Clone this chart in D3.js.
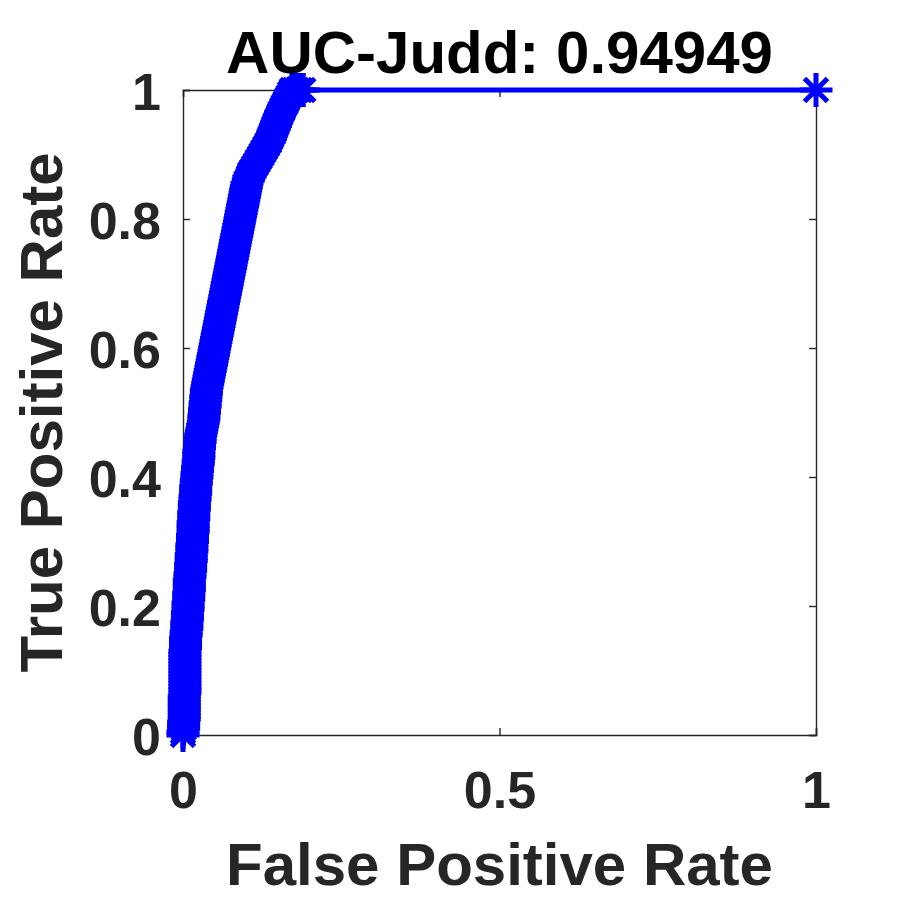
<!DOCTYPE html>
<html>
<head>
<meta charset="utf-8">
<script src="https://cdn.jsdelivr.net/npm/d3@7/dist/d3.min.js"></script>
<style>
  html, body { margin: 0; padding: 0; background: #fff; }
  svg { display: block; }
  text { font-family: "Liberation Sans", Arial, Helvetica, sans-serif; font-weight: bold; }
</style>
</head>
<body>
<svg id="chart" width="900" height="900"></svg>
<script>
// ---- data ----
var titleText = "AUC-Judd: 0.94949";
var xLabel = "False Positive Rate";
var yLabel = "True Positive Rate";
var xTicks = [0, 0.5, 1];
var xTickLabels = ["0", "0.5", "1"];
var yTicks = [0, 0.2, 0.4, 0.6, 0.8, 1];
var yTickLabels = ["0", "0.2", "0.4", "0.6", "0.8", "1"];

var tpr = [
  0.000, 0.005, 0.010, 0.015, 0.020, 0.025, 0.030, 0.035, 0.040, 0.045,
  0.050, 0.055, 0.060, 0.065, 0.070, 0.075, 0.080, 0.085, 0.090, 0.095,
  0.100, 0.105, 0.110, 0.115, 0.120, 0.125, 0.130, 0.135, 0.140, 0.145,
  0.150, 0.155, 0.160, 0.165, 0.170, 0.175, 0.180, 0.185, 0.190, 0.195,
  0.200, 0.205, 0.210, 0.215, 0.220, 0.225, 0.230, 0.235, 0.240, 0.245,
  0.250, 0.255, 0.260, 0.265, 0.270, 0.275, 0.280, 0.285, 0.290, 0.295,
  0.300, 0.305, 0.310, 0.315, 0.320, 0.325, 0.330, 0.335, 0.340, 0.345,
  0.350, 0.355, 0.360, 0.365, 0.370, 0.375, 0.380, 0.385, 0.390, 0.395,
  0.400, 0.405, 0.410, 0.415, 0.420, 0.425, 0.430, 0.435, 0.440, 0.445,
  0.450, 0.455, 0.460, 0.465, 0.470, 0.475, 0.480, 0.485, 0.490, 0.495,
  0.500, 0.505, 0.510, 0.515, 0.520, 0.525, 0.530, 0.535, 0.540, 0.545,
  0.550, 0.555, 0.560, 0.565, 0.570, 0.575, 0.580, 0.585, 0.590, 0.595,
  0.600, 0.605, 0.610, 0.615, 0.620, 0.625, 0.630, 0.635, 0.640, 0.645,
  0.650, 0.655, 0.660, 0.665, 0.670, 0.675, 0.680, 0.685, 0.690, 0.695,
  0.700, 0.705, 0.710, 0.715, 0.720, 0.725, 0.730, 0.735, 0.740, 0.745,
  0.750, 0.755, 0.760, 0.765, 0.770, 0.775, 0.780, 0.785, 0.790, 0.795,
  0.800, 0.805, 0.810, 0.815, 0.820, 0.825, 0.830, 0.835, 0.840, 0.845,
  0.850, 0.855, 0.860, 0.865, 0.870, 0.875, 0.880, 0.885, 0.890, 0.895,
  0.900, 0.905, 0.910, 0.915, 0.920, 0.925, 0.930, 0.935, 0.940, 0.945,
  0.950, 0.955, 0.960, 0.965, 0.970, 0.975, 0.980, 0.985, 0.990, 0.995,
  1.000, 1.000, 1.000, 1.000, 1.000, 1.000
];
var fpr = [
  0.000, 0.000, 0.001, 0.001, 0.001, 0.002, 0.002, 0.002, 0.002, 0.002,
  0.002, 0.002, 0.002, 0.003, 0.003, 0.003, 0.003, 0.003, 0.003, 0.003,
  0.003, 0.003, 0.003, 0.003, 0.003, 0.003, 0.003, 0.004, 0.004, 0.004,
  0.004, 0.005, 0.005, 0.006, 0.006, 0.006, 0.007, 0.007, 0.007, 0.008,
  0.008, 0.008, 0.009, 0.009, 0.009, 0.010, 0.010, 0.010, 0.010, 0.011,
  0.011, 0.012, 0.012, 0.012, 0.013, 0.013, 0.013, 0.014, 0.014, 0.014,
  0.015, 0.015, 0.015, 0.016, 0.016, 0.016, 0.016, 0.017, 0.017, 0.017,
  0.018, 0.018, 0.018, 0.019, 0.019, 0.020, 0.020, 0.020, 0.021, 0.021,
  0.022, 0.022, 0.023, 0.023, 0.024, 0.024, 0.025, 0.025, 0.025, 0.026,
  0.026, 0.027, 0.027, 0.028, 0.029, 0.030, 0.031, 0.032, 0.033, 0.033,
  0.034, 0.034, 0.035, 0.035, 0.036, 0.036, 0.037, 0.037, 0.038, 0.039,
  0.040, 0.041, 0.042, 0.043, 0.044, 0.045, 0.046, 0.047, 0.048, 0.049,
  0.050, 0.051, 0.052, 0.053, 0.054, 0.055, 0.056, 0.057, 0.058, 0.059,
  0.060, 0.061, 0.062, 0.063, 0.064, 0.065, 0.066, 0.067, 0.068, 0.069,
  0.070, 0.071, 0.072, 0.073, 0.074, 0.075, 0.076, 0.077, 0.078, 0.079,
  0.080, 0.081, 0.082, 0.083, 0.084, 0.085, 0.086, 0.087, 0.088, 0.089,
  0.090, 0.091, 0.092, 0.093, 0.094, 0.095, 0.096, 0.097, 0.098, 0.099,
  0.100, 0.101, 0.103, 0.104, 0.106, 0.109, 0.112, 0.115, 0.118, 0.121,
  0.124, 0.127, 0.130, 0.133, 0.136, 0.138, 0.140, 0.142, 0.144, 0.146,
  0.148, 0.150, 0.152, 0.154, 0.157, 0.159, 0.162, 0.164, 0.167, 0.169,
  0.172, 0.176, 0.180, 0.185, 0.190, 1.000
];

(function () {
  var AX = "#262626";
  var BLUE = "#0000ff";
  var svg = d3.select("#chart");
  var L = 183, R = 816, T = 90, B = 735;
  var x = d3.scaleLinear().domain([0, 1]).range([L, R]);
  var y = d3.scaleLinear().domain([0, 1]).range([B, T]);
  var tickLen = 7;

  var gAxes = svg.append("g");
  var axB = d3.axisBottom(x).tickValues(xTicks).tickSize(-tickLen).tickPadding(0)
    .tickFormat(function (d, i) { return xTickLabels[i]; });
  var axT = d3.axisTop(x).tickValues(xTicks).tickSize(-tickLen).tickFormat(function () { return ""; });
  var axL = d3.axisLeft(y).tickValues(yTicks).tickSize(-tickLen).tickPadding(0)
    .tickFormat(function (d, i) { return yTickLabels[i]; });
  var axR = d3.axisRight(y).tickValues(yTicks).tickSize(-tickLen).tickFormat(function () { return ""; });

  var gB = gAxes.append("g").attr("transform", "translate(0," + B + ")").call(axB);
  var gT = gAxes.append("g").attr("transform", "translate(0," + T + ")").call(axT);
  var gL = gAxes.append("g").attr("transform", "translate(" + L + ",0)").call(axL);
  var gR = gAxes.append("g").attr("transform", "translate(" + R + ",0)").call(axR);

  [gB, gT, gL, gR].forEach(function (g) {
    g.attr("font-size", null).attr("font-family", null);
    g.select(".domain").attr("stroke", AX).attr("stroke-width", 1.4);
    g.selectAll(".tick line").attr("stroke", AX).attr("stroke-width", 1.4);
  });
  gB.selectAll(".tick text")
    .attr("fill", AX).attr("font-size", 52)
    .attr("dy", null).attr("y", 73);
  gL.selectAll(".tick text")
    .attr("fill", AX).attr("font-size", 52)
    .attr("dy", null).attr("x", -22).attr("y", 19);

  var pts = fpr.map(function (f, i) { return [f, tpr[i]]; });
  svg.append("path")
    .datum(pts)
    .attr("fill", "none")
    .attr("stroke", BLUE)
    .attr("stroke-width", 5)
    .attr("stroke-linejoin", "round")
    .attr("d", d3.line().x(function (d) { return x(d[0]); }).y(function (d) { return y(d[1]); }));

  var av = 17, ah = 16.5, dg = 11.5;
  var star = "M0," + (-av) + "V" + av + "M" + (-ah) + ",0H" + ah +
    "M" + (-dg) + "," + (-dg) + "L" + dg + "," + dg +
    "M" + (-dg) + "," + dg + "L" + dg + "," + (-dg);
  svg.append("g").selectAll("path")
    .data(pts)
    .join("path")
    .attr("transform", function (d) { return "translate(" + x(d[0]) + "," + y(d[1]) + ")"; })
    .attr("d", star)
    .attr("fill", "none")
    .attr("stroke", BLUE)
    .attr("stroke-width", 5);

  svg.append("text")
    .attr("x", (L + R) / 2).attr("y", 73)
    .attr("text-anchor", "middle")
    .attr("font-size", 60)
    .attr("fill", "#000")
    .text(titleText);

  svg.append("text")
    .attr("x", (L + R) / 2).attr("y", 885)
    .attr("text-anchor", "middle")
    .attr("font-size", 60)
    .attr("fill", AX)
    .text(xLabel);

  svg.append("text")
    .attr("transform", "translate(62," + ((T + B) / 2) + ") rotate(-90)")
    .attr("text-anchor", "middle")
    .attr("font-size", 60)
    .attr("fill", AX)
    .text(yLabel);
})();
</script>
</body>
</html>
